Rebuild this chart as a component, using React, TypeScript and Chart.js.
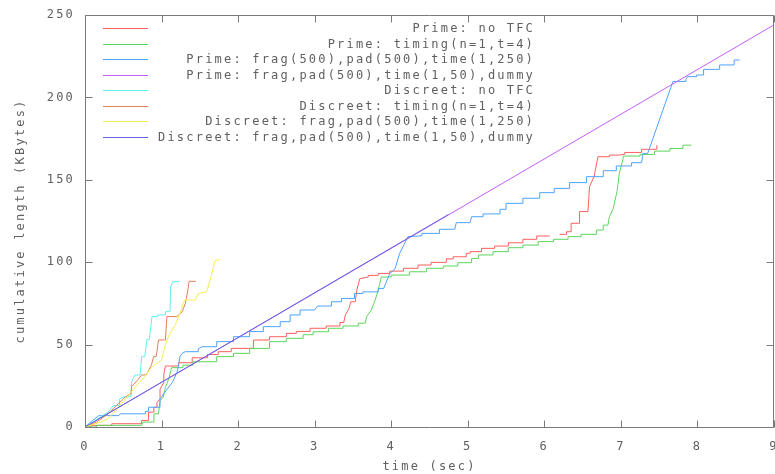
import React, { useEffect, useRef } from "react";
import { Chart, registerables } from "chart.js";

Chart.register(...registerables);

const seriesLabels = [
  "Prime: no TFC",
  "Prime: timing(n=1,t=4)",
  "Prime: frag(500),pad(500),time(1,250)",
  "Prime: frag,pad(500),time(1,50),dummy",
  "Discreet: no TFC",
  "Discreet: timing(n=1,t=4)",
  "Discreet: frag,pad(500),time(1,250)",
  "Discreet: frag,pad(500),time(1,50),dummy",
];

const seriesColors = [
  "#ff5f5f",
  "#5cd65c",
  "#4da3ff",
  "#c55cff",
  "#5ff0f0",
  "#e0805a",
  "#f2f050",
  "#6464e0",
];

// [time (sec), cumulative KBytes]; null = gap
const primeNoTfc: [number, number | null][] = [
  [0, 0], [0.08, 0], [0.08, 1], [0.35, 1], [0.35, 2], [0.74, 2], [0.74, 4], [0.83, 4], [0.83, 9],
  [0.9, 9], [0.9, 12], [0.94, 12], [0.94, 15], [0.98, 17], [0.98, 23], [1.03, 27], [1.03, 32],
  [1.05, 37], [1.22, 37], [1.22, 39], [1.4, 39], [1.4, 42], [1.6, 42], [1.6, 44], [1.74, 44],
  [1.74, 45.7], [1.91, 45.7], [1.91, 47.7], [2.2, 47.7], [2.2, 52.8], [2.41, 52.8], [2.41, 54.8],
  [2.63, 54.8], [2.63, 56.8], [2.76, 56.8], [2.76, 58], [2.94, 58], [2.94, 59.9], [3.15, 59.9],
  [3.15, 61.3], [3.33, 61.3], [3.33, 63.4], [3.38, 63.4], [3.4, 68], [3.45, 72], [3.47, 76],
  [3.53, 76], [3.55, 83], [3.59, 90], [3.7, 91], [3.7, 92], [3.83, 92], [3.83, 93.2], [3.98, 93.2],
  [3.98, 94.6], [4.16, 94.6], [4.16, 96.3], [4.35, 96.3], [4.35, 98.3], [4.52, 98.3], [4.52, 99.9],
  [4.72, 99.9], [4.72, 102], [4.81, 102], [4.81, 103.3], [4.98, 103.3], [4.98, 105.4], [5.03, 105.4],
  [5.03, 106.4], [5.18, 106.4], [5.18, 108.4], [5.35, 108.4], [5.35, 109.8], [5.53, 109.8],
  [5.53, 111.8], [5.72, 111.8], [5.72, 113.9], [5.9, 113.9], [5.9, 115.9], [6.07, 115.9],
  [6.12, null],
  [6.2, 116.9], [6.29, 116.9], [6.29, 118.5], [6.35, 118.5], [6.35, 123.6], [6.46, 123.6],
  [6.46, 130.7], [6.57, 130.7], [6.59, 145.9], [6.65, 152], [6.7, 164], [6.85, 164], [6.85, 165],
  [6.98, 165], [7.05, 165.5], [7.05, 166.6], [7.27, 166.6], [7.27, 168.5], [7.46, 168.5], [7.47, 171],
];

const primeTiming: [number, number][] = [
  [0, 0], [0.15, 0], [0.15, 1], [0.74, 1], [0.76, 3], [0.9, 3], [0.9, 8], [0.96, 8], [0.98, 16],
  [1.02, 18], [1.05, 24], [1.1, 30], [1.13, 36], [1.28, 36], [1.28, 37.5], [1.41, 37.5], [1.41, 39.6],
  [1.72, 39.6], [1.72, 42.7], [1.94, 42.7], [1.94, 44.7], [2.15, 44.7], [2.15, 47.7], [2.41, 47.7],
  [2.41, 51.8], [2.63, 51.8], [2.63, 53.8], [2.85, 53.8], [2.85, 56], [2.98, 56], [2.98, 57.8],
  [3.18, 57.8], [3.18, 59.9], [3.37, 59.9], [3.37, 61.3], [3.57, 61.3], [3.57, 63], [3.66, 63],
  [3.68, 67], [3.74, 71], [3.79, 77], [3.83, 83], [3.85, 87], [3.87, 91], [4.0, 91], [4.0, 92.2],
  [4.24, 92.2], [4.24, 94.2], [4.46, 94.2], [4.46, 96.3], [4.68, 96.3], [4.68, 97.7], [4.87, 97.7],
  [4.87, 99.7], [5.05, 99.7], [5.05, 102.3], [5.14, 102.3], [5.14, 104.4], [5.33, 104.4],
  [5.33, 106.4], [5.53, 106.4], [5.53, 108.8], [5.72, 108.8], [5.72, 110.4], [5.92, 110.4],
  [5.92, 112.5], [6.12, 112.5], [6.12, 113.9], [6.31, 113.9], [6.31, 115.5], [6.48, 115.5],
  [6.48, 116.9], [6.68, 116.9], [6.68, 119.5], [6.77, 119.5], [6.77, 122.5], [6.83, 122.5],
  [6.85, 127.6], [6.9, 132.6], [6.95, 143], [6.98, 154], [7.03, 163], [7.03, 164.4], [7.25, 164.4],
  [7.25, 165.4], [7.44, 165.4], [7.44, 167.4], [7.64, 167.4], [7.64, 169], [7.81, 169], [7.81, 171],
  [7.92, 171],
];

const primeFragPad250: [number, number][] = [
  [0, 0], [0.05, 2], [0.1, 4], [0.18, 6.9], [0.44, 6.9], [0.46, 8], [0.79, 8], [0.79, 9.5],
  [0.83, 9.5], [0.83, 12], [0.98, 12], [0.98, 17], [1.07, 22.8], [1.14, 27], [1.2, 33], [1.22, 36.6],
  [1.24, 42.7], [1.27, 44.7], [1.31, 45.7], [1.48, 45.7], [1.48, 47.5], [1.53, 48.7], [1.72, 48.7],
  [1.72, 51.8], [1.94, 51.8], [1.94, 54.8], [2.15, 54.8], [2.15, 57.9], [2.33, 57.9], [2.33, 60.9],
  [2.55, 60.9], [2.55, 63.9], [2.68, 63.9], [2.68, 68], [2.81, 68], [2.81, 71], [3.0, 71],
  [3.04, 73.4], [3.22, 73.4], [3.22, 76], [3.35, 76], [3.35, 78], [3.52, 78], [3.52, 81], [3.63, 81],
  [3.63, 82], [3.83, 82], [3.83, 84], [3.9, 84], [3.98, 93], [4.05, 96], [4.11, 105.4], [4.22, 115.5],
  [4.4, 116], [4.4, 117.5], [4.63, 117.5], [4.63, 120], [4.83, 120], [4.85, 124], [5.03, 124],
  [5.05, 127.6], [5.2, 127.6], [5.2, 129.3], [5.42, 129.3], [5.42, 132.1], [5.5, 132.1],
  [5.5, 135.7], [5.72, 135.7], [5.72, 138.8], [5.94, 138.8], [5.94, 142.2], [6.13, 142.2],
  [6.13, 144.8], [6.33, 144.8], [6.33, 148.3], [6.55, 148.3], [6.55, 151.9], [6.77, 151.9],
  [6.77, 155.5], [6.94, 155.5], [6.94, 158.4], [7.14, 158.4], [7.14, 160.4], [7.27, 160.4],
  [7.29, 166], [7.35, 166], [7.68, 209.7],
  [7.85, 209.7], [7.85, 211], [7.87, 212.6], [7.99, 212.6], [7.99, 213.6], [8.08, 213.6],
  [8.08, 217], [8.29, 217], [8.29, 219.7], [8.48, 219.7], [8.48, 222.7], [8.55, 222.7],
];

const primeDummy: [number, number][] = [
  [0, 0], [9, 244],
];

const discreetNoTfc: [number, number][] = [
  [0, 0], [0.1, 3], [0.2, 6], [0.3, 9], [0.37, 13], [0.45, 13], [0.45, 17], [0.51, 18.4], [0.6, 18.4],
  [0.61, 27.5], [0.65, 31.6], [0.72, 31.6], [0.74, 42.7], [0.78, 42.7], [0.81, 53.2], [0.84, 53.2],
  [0.875, 67], [0.95, 67], [0.95, 68], [1.05, 68], [1.05, 70], [1.11, 70], [1.12, 85.6], [1.15, 88.2],
  [1.23, 88.2],
];

const discreetTiming: [number, number][] = [
  [0, 0], [0.15, 3], [0.3, 8], [0.4, 12.5], [0.5, 17], [0.53, 18.4], [0.6, 20], [0.61, 24.6],
  [0.68, 28], [0.74, 31.6], [0.8, 31.6], [0.83, 34.2], [0.87, 38], [0.896, 42.7], [0.93, 42.7],
  [0.96, 52.8], [1.05, 52.8], [1.07, 67], [1.2, 67], [1.27, 70], [1.31, 75], [1.34, 82], [1.36, 88.4],
  [1.45, 88.4],
];

const discreetFragPad250: [number, number][] = [
  [0, 0], [0.2, 3], [0.3, 5], [0.4, 10], [0.45, 13], [0.53, 17], [0.6, 21], [0.7, 26.5], [0.77, 30],
  [0.83, 34], [0.9, 37.6], [1.0, 40.6], [1.05, 50], [1.1, 56], [1.18, 62], [1.24, 68.9], [1.3, 77],
  [1.44, 77], [1.48, 81], [1.59, 82], [1.65, 92], [1.7, 101], [1.77, 101.7],
];

const discreetDummy: [number, number][] = [
  [0, 0], [4.75, 129],
];

const seriesData = [
  primeNoTfc,
  primeTiming,
  primeFragPad250,
  primeDummy,
  discreetNoTfc,
  discreetTiming,
  discreetFragPad250,
  discreetDummy,
];

const xTickValues = [0, 1, 2, 3, 4, 5, 6, 7, 8, 9];
const yTickValues = [0, 50, 100, 150, 200, 250];

const FONT = "'DejaVu Sans Mono', 'Liberation Mono', monospace";
const TEXT_COLOR = "#606060";
const FRAME_COLOR = "#7a7a7a";
const SPACING = "2.2px";

const gnuplotPlugin = {
  id: "gnuplotFrame",
  beforeUpdate(chart: any) {
    chart.ctx.letterSpacing = SPACING;
  },
  beforeDraw(chart: any) {
    chart.ctx.letterSpacing = SPACING;
  },
  afterDatasetsDraw(chart: any) {
    const { ctx, chartArea } = chart;
    const xs = chart.scales.x;
    const ys = chart.scales.y;
    const L = Math.round(chartArea.left) + 0.5;
    const R = Math.round(chartArea.right) - 0.5;
    const T = Math.round(chartArea.top) + 0.5;
    const B = Math.round(chartArea.bottom) + 0.5;
    ctx.save();
    ctx.strokeStyle = FRAME_COLOR;
    ctx.lineWidth = 1;
    ctx.beginPath();
    ctx.rect(L, T, R - L, B - T);
    const tl = 7;
    xTickValues.forEach((v) => {
      const px = Math.round(xs.getPixelForValue(v)) + 0.5;
      ctx.moveTo(px, B);
      ctx.lineTo(px, B - tl);
      ctx.moveTo(px, T);
      ctx.lineTo(px, T + tl);
    });
    yTickValues.forEach((v) => {
      const py = Math.round(ys.getPixelForValue(v)) + 0.5;
      ctx.moveTo(L, py);
      ctx.lineTo(L + tl, py);
      ctx.moveTo(R, py);
      ctx.lineTo(R - tl, py);
    });
    ctx.stroke();

    // legend (gnuplot style: sample line left, text right-aligned)
    ctx.font = `12px ${FONT}`;
    ctx.letterSpacing = SPACING;
    ctx.textAlign = "right";
    ctx.textBaseline = "middle";
    seriesLabels.forEach((label, i) => {
      const y = Math.round(28 + i * 15.55) + 0.5;
      ctx.strokeStyle = seriesColors[i];
      ctx.beginPath();
      ctx.moveTo(103, y);
      ctx.lineTo(148, y);
      ctx.stroke();
      ctx.fillStyle = TEXT_COLOR;
      ctx.fillText(label, 535, y);
    });
    ctx.restore();
  },
};

export default function App() {
  const canvasRef = useRef<HTMLCanvasElement | null>(null);

  useEffect(() => {
    const canvas = canvasRef.current;
    if (!canvas) return;
    const datasets = seriesData.map((pts, i) => ({
      label: seriesLabels[i],
      data: pts.map(([x, y]) => ({ x, y })),
      borderColor: seriesColors[i],
      backgroundColor: seriesColors[i],
      borderWidth: 1,
      pointRadius: 0,
      tension: 0,
      fill: false,
      spanGaps: false,
      order: seriesData.length - 1 - i,
    }));

    const chart = new Chart(canvas, {
      type: "line",
      data: { datasets },
      options: {
        animation: false,
        responsive: false,
        devicePixelRatio: 1,
        layout: { autoPadding: false, padding: { top: 15, right: 1, left: 0, bottom: 0 } },
        plugins: {
          legend: { display: false },
          tooltip: { enabled: false },
        },
        scales: {
          x: {
            type: "linear",
            min: 0,
            max: 9,
            grid: { display: false, drawTicks: false },
            border: { display: false },
            afterFit(scale: any) {
              scale.height = 47;
              scale.paddingLeft = 0;
              scale.paddingRight = 0;
            },
            afterBuildTicks(scale: any) {
              scale.ticks = xTickValues.map((v) => ({ value: v }));
            },
            ticks: {
              padding: 13,
              color: TEXT_COLOR,
              maxRotation: 0,
              autoSkip: false,
              font: { family: FONT, size: 12 },
            },
            title: {
              display: true,
              text: "time (sec)",
              color: TEXT_COLOR,
              font: { family: FONT, size: 12 },
              padding: { top: 0, bottom: 0 },
            },
          },
          y: {
            type: "linear",
            min: 0,
            max: 250,
            grid: { display: false, drawTicks: false },
            border: { display: false },
            afterFit(scale: any) {
              scale.width = 85;
              scale.paddingTop = 0;
              scale.paddingBottom = 0;
            },
            afterBuildTicks(scale: any) {
              scale.ticks = yTickValues.map((v) => ({ value: v }));
            },
            ticks: {
              padding: 10,
              color: TEXT_COLOR,
              autoSkip: false,
              font: { family: FONT, size: 12 },
            },
            title: {
              display: true,
              text: "cumulative length (KBytes)",
              color: TEXT_COLOR,
              font: { family: FONT, size: 12 },
              padding: { top: 14, bottom: 0 },
            },
          },
        },
      },
      plugins: [gnuplotPlugin],
    } as any);

    return () => {
      chart.destroy();
    };
  }, []);

  return (
    <div style={{ position: "absolute", left: 0, top: 0, width: 775, height: 474, background: "#fff" }}>
      <canvas ref={canvasRef} width={775} height={474} style={{ width: 775, height: 474, display: "block" }} />
    </div>
  );
}
